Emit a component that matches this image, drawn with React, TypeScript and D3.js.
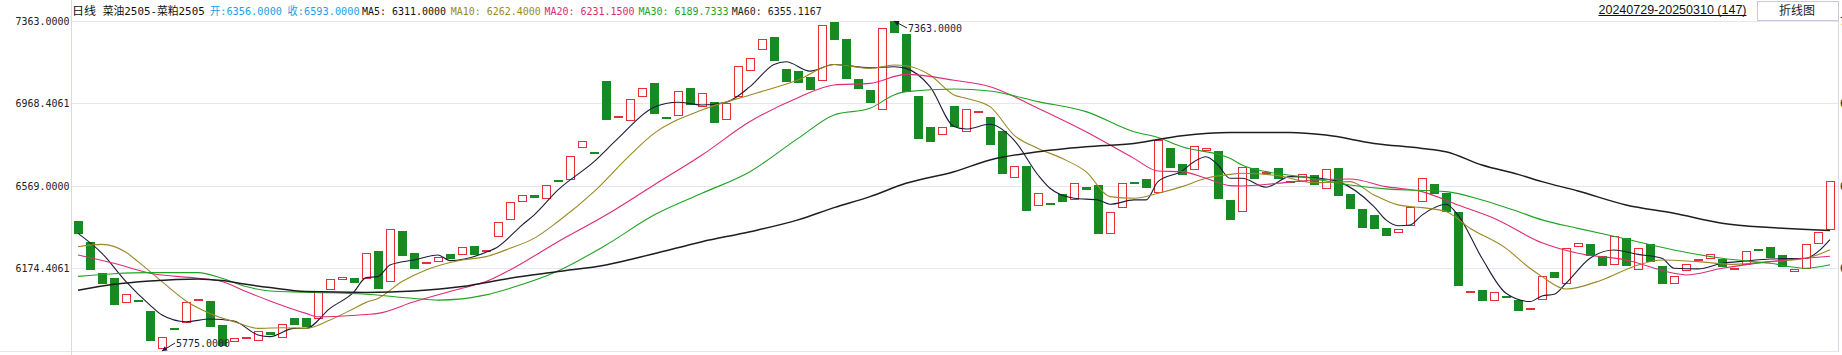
import React from "react";
import * as d3 from "d3";

const W = 1842;
const H = 355;

// ---- data ----
const candleOpen = [
  6400, 6300, 6150, 6126, 6004, 6020, 5968, 5783, 5885, 5908,
  6022, 6016, 5900, 5817, 5831, 5822, 5866, 5839, 5934, 5934,
  5927, 6067, 6115, 6126, 6120, 6256, 6105, 6352, 6247, 6200,
  6205, 6242, 6235, 6280, 6255, 6322, 6404, 6491, 6524, 6505,
  6596, 6596, 6750, 6732, 7074, 6895, 6880, 6996, 7065, 6900,
  6904, 7041, 6948, 6973, 6885, 6996, 7121, 7222, 7286, 7132,
  7122, 7093, 7073, 7360, 7276, 7084, 7031, 6933, 7361, 7300,
  7002, 6853, 6813, 6954, 6827, 6922, 6901, 6834, 6606, 6665,
  6471, 6487, 6531, 6500, 6564, 6574, 6336, 6462, 6590, 6603,
  6534, 6752, 6675, 6644, 6739, 6737, 6502, 6442, 6654, 6630,
  6654, 6593, 6590, 6620, 6553, 6654, 6531, 6458, 6430, 6367,
  6341, 6378, 6490, 6577, 6535, 6444, 6062, 6069, 6014, 6038,
  6020, 5971, 6019, 6155, 6096, 6274, 6290, 6232, 6189, 6319,
  6163, 6290, 6186, 6096, 6158, 6210, 6216, 6216, 6163, 6190,
  6266, 6275, 6237, 6154, 6170, 6292, 6356,
];
const candleClose = [
  6340, 6166, 6099, 5998, 6048, 6018, 5825, 5842, 5880, 6011,
  6025, 5892, 5801, 5838, 5842, 5871, 5854, 5903, 5902, 5890,
  6062, 6120, 6130, 6104, 6245, 6075, 6360, 6234, 6171, 6203,
  6227, 6219, 6274, 6237, 6262, 6394, 6491, 6524, 6513, 6572,
  6593, 6712, 6784, 6730, 6888, 6904, 6986, 7039, 6917, 6890,
  7025, 6957, 7015, 6874, 6967, 7145, 7185, 7276, 7172, 7071,
  7066, 7033, 7344, 7273, 7086, 7037, 6970, 7328, 7307, 7020,
  6797, 6782, 6851, 6851, 6938, 6928, 6768, 6628, 6664, 6450,
  6534, 6484, 6494, 6582, 6551, 6340, 6442, 6582, 6587, 6561,
  6792, 6657, 6622, 6760, 6750, 6508, 6407, 6659, 6604, 6634,
  6604, 6590, 6625, 6575, 6649, 6523, 6460, 6369, 6364, 6327,
  6364, 6466, 6606, 6531, 6446, 6089, 6065, 6017, 6057, 6032,
  5969, 5980, 6134, 6128, 6269, 6293, 6232, 6186, 6328, 6186,
  6269, 6205, 6096, 6134, 6192, 6219, 6240, 6178, 6173, 6255,
  6263, 6224, 6178, 6168, 6288, 6346, 6593,
];

// moving averages read at sampled candle indices: [candle index, value]
const ma5: [number, number][] = [
  [0, 6341], [2, 6245], [4, 6109], [6, 5996], [7, 5948], [9, 5916], [11, 5929], [13, 5919], [15, 5852], [16, 5844],
  [18, 5884], [19, 5884], [21, 5980], [23, 6060], [24, 6128], [25, 6133], [26, 6189], [28, 6213], [30, 6237], [31, 6210],
  [34, 6250], [35, 6277], [37, 6381], [38, 6429], [40, 6550], [43, 6686], [45, 6798], [48, 6948], [50, 6972], [52, 6959],
  [54, 6972], [56, 7047], [58, 7154], [59, 7167], [61, 7122], [63, 7154], [66, 7138], [68, 7143], [69, 7135], [71, 7047],
  [73, 6855], [74, 6843], [76, 6866], [78, 6790], [80, 6622], [81, 6558], [83, 6510], [85, 6502], [86, 6481], [88, 6502],
  [89, 6502], [90, 6590], [92, 6641], [93, 6686], [94, 6710], [95, 6670], [96, 6606], [97, 6606], [99, 6563], [101, 6614],
  [103, 6609], [105, 6590], [108, 6470], [109, 6406], [110, 6378], [111, 6381], [112, 6429], [114, 6481], [115, 6429], [117, 6221],
  [119, 6053], [121, 6013], [122, 6040], [123, 6048], [124, 6101], [126, 6221], [128, 6261], [130, 6240], [132, 6221], [133, 6173],
  [135, 6170], [137, 6197], [139, 6208], [141, 6218], [144, 6221], [145, 6253], [146, 6311],
];
const ma10: [number, number][] = [
  [0, 6277], [2, 6288], [4, 6250], [5, 6205], [7, 6109], [9, 6016], [11, 5956], [13, 5916], [15, 5884], [17, 5887],
  [19, 5884], [21, 5924], [23, 5980], [24, 6009], [25, 6028], [27, 6109], [29, 6165], [32, 6213], [34, 6229], [36, 6269],
  [38, 6317], [40, 6398], [43, 6542], [46, 6718], [48, 6822], [52, 6935], [56, 7007], [60, 7079], [63, 7154], [66, 7135],
  [68, 7151], [69, 7148], [71, 7103], [73, 7007], [74, 6991], [76, 6951], [78, 6814], [80, 6750], [82, 6702], [84, 6638],
  [86, 6518], [88, 6510], [90, 6534], [92, 6566], [94, 6606], [96, 6625], [97, 6630], [100, 6619], [103, 6585], [106, 6590],
  [108, 6526], [110, 6478], [112, 6465], [114, 6446], [116, 6366], [119, 6269], [121, 6173], [122, 6133], [124, 6073], [127, 6117],
  [130, 6189], [132, 6213], [135, 6205], [138, 6192], [141, 6205], [144, 6221], [146, 6262.4],
];
const ma20: [number, number][] = [
  [0, 6237], [3, 6197], [6, 6149], [10, 6125], [12, 6109], [14, 6061], [16, 6016], [19, 5956], [20, 5940], [24, 5951],
  [25, 5956], [28, 6012], [32, 6077], [34, 6109], [36, 6165], [40, 6301], [44, 6429], [48, 6574], [52, 6718], [56, 6879],
  [60, 6994], [63, 7055], [66, 7063], [69, 7106], [73, 7078], [76, 7047], [80, 6943], [84, 6830], [88, 6702], [90, 6641],
  [92, 6638], [94, 6606], [96, 6571], [97, 6569], [100, 6582], [103, 6598], [106, 6603], [109, 6566], [112, 6542], [115, 6478],
  [118, 6414], [122, 6296], [125, 6245], [129, 6213], [133, 6149], [134, 6141], [137, 6173], [141, 6205], [146, 6231.15],
];
const ma30: [number, number][] = [
  [0, 6134], [3, 6147], [6, 6152], [10, 6152], [12, 6125], [14, 6085], [16, 6064], [19, 6058], [24, 6048], [28, 6028],
  [30, 6020], [34, 6045], [36, 6077], [40, 6160], [44, 6285], [48, 6429], [52, 6534], [56, 6638], [60, 6798], [63, 6911],
  [66, 6943], [68, 7007], [69, 7023], [73, 7036], [76, 7026], [80, 6975], [84, 6927], [88, 6830], [90, 6802], [92, 6758],
  [96, 6702], [97, 6670], [99, 6638], [102, 6614], [106, 6574], [109, 6555], [114, 6542], [117, 6502], [120, 6446], [122, 6406],
  [125, 6365], [129, 6314], [133, 6261], [137, 6221], [141, 6197], [144, 6173], [146, 6189.7333],
];
const ma60: [number, number][] = [
  [0, 6067], [3, 6096], [6, 6112], [10, 6122], [12, 6114], [14, 6096], [16, 6080], [19, 6061], [24, 6057], [28, 6064],
  [32, 6085], [36, 6125], [40, 6157], [44, 6189], [48, 6243], [52, 6301], [56, 6349], [60, 6406], [63, 6465], [66, 6518],
  [69, 6582], [73, 6638], [76, 6694], [80, 6734], [84, 6758], [88, 6774], [92, 6811], [96, 6827], [101, 6827], [104, 6814],
  [108, 6774], [112, 6750], [114, 6734], [117, 6670], [120, 6625], [122, 6590], [125, 6545], [129, 6478], [133, 6438], [137, 6390],
  [141, 6369], [145, 6357], [146, 6355.1167],
];

const maNames = ["MA5", "MA10", "MA20", "MA30", "MA60"];
const maSeries = [ma5, ma10, ma20, ma30, ma60];
const maColors = ["#1c1c3a", "#9c8826", "#e02a76", "#1fa323", "#1e1e1e"];
const maWidths = [1.1, 1.1, 1.1, 1.1, 1.5];

const yTickValues = [7363.0, 6968.4061, 6569.0, 6174.4061];
const yTickLabels = ["7363.0000", "6968.4061", "6569.0000", "6174.4061"];

const extremeIndex = [68, 7];
const extremeValue = [7363, 5775];
const extremeLabels = ["7363.0000", "5775.0000"];

const titleName = "日线";
const contractName = "菜油2505-菜粕2505";
const openLabel = "开";
const closeLabel = "收";
const dateRangeLabel = "20240729-20250310 (147)";
const buttonLabel = "折线图";

// ---- layout ----
const PLOT_L = 72;
const PLOT_R = 1836;
const PLOT_T = 21;
const PLOT_B = 351;
const AXIS_R = 1838.5;

const UP = "#e62e36";
const DOWN = "#188a22";
const GRID = "#e6e6f2";
const AXIS = "#d8d8e8";
const BLUE = "#1e9ee8";

const MONO = "'DejaVu Sans Mono', 'Liberation Mono', 'Noto Sans CJK SC', monospace";
const CJK = "'Noto Sans CJK SC', 'DejaVu Sans', sans-serif";

const charW = (s: string) =>
  Array.from(s).reduce((a, c) => a + (/[\u3000-\u9fff]/.test(c) ? 12 : 6), 0);

function MonoText(props: { x: number; y: number; text: string; fill: string; anchor?: string }) {
  const { x, y, text, fill, anchor } = props;
  return (
    <text
      x={x}
      y={y}
      fill={fill}
      fontFamily={MONO}
      fontSize={11}
      textAnchor={anchor || "start"}
      textLength={charW(text)}
      lengthAdjust="spacingAndGlyphs"
    >
      {text}
    </text>
  );
}

export default function App() {
  const n = candleOpen.length;
  const x = d3
    .scaleBand<number>()
    .domain(d3.range(n))
    .range([PLOT_L, PLOT_R])
    .paddingInner(0.25)
    .paddingOuter(0.125);
  const bw = x.bandwidth();
  const xc = (i: number) => (x(Math.round(i)) as number) + bw / 2 + (i - Math.round(i)) * x.step();

  const yMin = d3.min(extremeValue) as number;
  const yMax = d3.max(extremeValue) as number;
  const y = d3.scaleLinear().domain([yMin, yMax]).range([PLOT_B, PLOT_T]);

  const line = d3
    .line<[number, number]>()
    .x((d) => xc(d[0]))
    .y((d) => y(d[1]))
    .curve(d3.curveMonotoneX);

  const last = n - 1;
  const titleSegs: { x: number; text: string; fill: string }[] = [
    { x: 72, text: titleName, fill: "#111" },
    { x: 102.7, text: contractName, fill: "#111" },
    { x: 210, text: `${openLabel}:${candleOpen[last].toFixed(4)}`, fill: BLUE },
    { x: 287.6, text: `${closeLabel}:${candleClose[last].toFixed(4)}`, fill: BLUE },
  ];
  const maX = [362, 450.7, 544.6, 638.5, 731.8];
  maNames.forEach((nm, k) => {
    const s = maSeries[k];
    titleSegs.push({
      x: maX[k],
      text: `${nm}: ${s[s.length - 1][1].toFixed(4)}`,
      fill: k === 0 ? "#111" : maColors[k],
    });
  });

  const arrowHead = (tx: number, ty: number, ex: number, ey: number) => {
    const dx = ex - tx;
    const dy = ey - ty;
    const len = Math.hypot(dx, dy);
    const ux = dx / len;
    const uy = dy / len;
    const L = 5;
    const hw = 2.6;
    const bx = tx + ux * L;
    const by = ty + uy * L;
    return `M${tx},${ty}L${bx - uy * hw},${by + ux * hw}L${bx + uy * hw},${by - ux * hw}Z`;
  };

  return (
    <svg
      width={W}
      height={H}
      style={{ position: "absolute", left: 0, top: 0, background: "#fff", display: "block" }}
    >
      <rect x={0} y={0} width={W} height={H} fill="#fff" />
      {/* grid */}
      <g shapeRendering="crispEdges">
        {yTickValues.map((v, k) => (
          <line key={"g" + k} x1={PLOT_L} x2={AXIS_R} y1={Math.round(y(v)) + 0.5} y2={Math.round(y(v)) + 0.5} stroke={GRID} strokeWidth={1} />
        ))}
        <line x1={0} x2={AXIS_R} y1={PLOT_B + 0.5} y2={PLOT_B + 0.5} stroke={GRID} strokeWidth={1} />
        <line x1={71.5} x2={71.5} y1={0} y2={H} stroke={AXIS} strokeWidth={1} />
        <line x1={AXIS_R} x2={AXIS_R} y1={PLOT_T} y2={PLOT_B + 1} stroke={AXIS} strokeWidth={1} />
      </g>

      {/* y labels */}
      {yTickValues.map((v, k) => (
        <MonoText key={"yl" + k} x={69.5} y={y(v) + 4.3} text={yTickLabels[k]} fill="#222" anchor="end" />
      ))}
      {yTickValues.map((v, k) => (
        <MonoText key={"yr" + k} x={1840} y={y(v) + 4.3} text={yTickLabels[k]} fill="#222" />
      ))}

      {/* candles */}
      <g shapeRendering="crispEdges">
        {candleOpen.map((o, i) => {
          const c = candleClose[i];
          const up = c >= o;
          const top = Math.round(y(Math.max(o, c)));
          const bot = Math.round(y(Math.min(o, c)));
          const h = Math.max(bot - top, 1);
          const x0 = Math.round(x(i) as number);
          const w = Math.round(bw);
          if (up) {
            return (
              <rect key={"c" + i} x={x0 + 0.5} y={top + 0.5} width={w - 1} height={Math.max(h - 1, 1)} fill={h <= 2 ? UP : "none"} stroke={UP} strokeWidth={1} />
            );
          }
          return <rect key={"c" + i} x={x0} y={top} width={w} height={Math.max(h, 1.5)} fill={DOWN} />;
        })}
      </g>

      {/* moving averages */}
      {maSeries.map((s, k) => (
        <path key={"ma" + k} d={line(s) || ""} fill="none" stroke={maColors[k]} strokeWidth={maWidths[k]} />
      ))}

      {/* extreme annotations */}
      {extremeIndex.map((idx, k) => {
        const tx = xc(idx);
        const ty = y(extremeValue[k]);
        const isHigh = extremeValue[k] === yMax;
        const ex = tx + 13;
        const ey = isHigh ? ty + 7 : ty - 8;
        return (
          <g key={"ex" + k}>
            <line x1={tx} y1={ty} x2={ex} y2={ey} stroke="#1c1c3a" strokeWidth={1} />
            <path d={arrowHead(tx, ty, ex, ey)} fill="#1c1c3a" />
            <MonoText x={ex + 1} y={ey + 4} text={extremeLabels[k]} fill="#1c1c3a" />
          </g>
        );
      })}

      {/* title row */}
      {titleSegs.map((s, k) => (
        <MonoText key={"t" + k} x={s.x} y={14.5} text={s.text} fill={s.fill} />
      ))}

      {/* date range */}
      <text
        x={1746.5}
        y={13.5}
        textAnchor="end"
        fontFamily="'Liberation Sans', Arial, sans-serif"
        fontSize={12}
        fill="#111"
        textLength={148}
        lengthAdjust="spacingAndGlyphs"
      >
        {dateRangeLabel}
      </text>
      <line x1={1598.5} x2={1746.5} y1={15.5} y2={15.5} stroke="#111" strokeWidth={1} />

      {/* button */}
      <rect x={1757.5} y={1.5} width={80.5} height={19} fill="#fff" stroke="#c8c8dc" strokeWidth={1} shapeRendering="crispEdges" />
      <text x={1797} y={15} textAnchor="middle" fontFamily={CJK} fontSize={12} fill="#222">
        {buttonLabel}
      </text>
    </svg>
  );
}
